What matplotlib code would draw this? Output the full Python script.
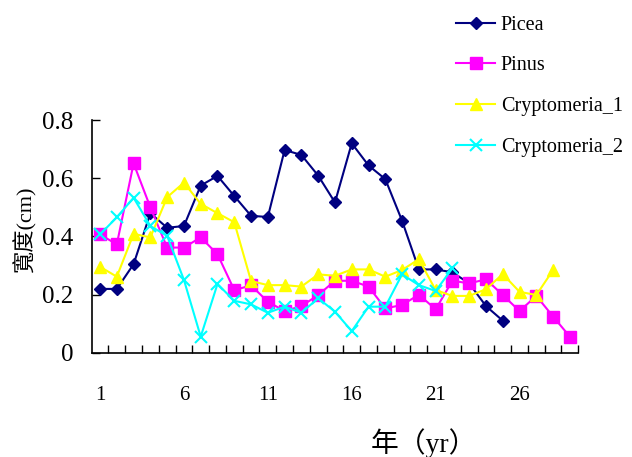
import numpy as np
import matplotlib
matplotlib.use("Agg")
import matplotlib.pyplot as plt

plt.rcParams['font.family'] = ['Liberation Serif', 'Noto Sans CJK TC', 'DejaVu Sans']

years = list(range(1, 30))
picea = [0.22, 0.22, 0.305, 0.48, 0.43, 0.436, 0.575, 0.608, 0.539, 0.471,
         0.467, 0.697, 0.68, 0.609, 0.517, 0.72, 0.644, 0.597, 0.454, 0.287,
         0.287, 0.277, 0.239, 0.161, 0.111, None, None, None, None]
pinus = [0.407, 0.373, 0.651, 0.50, 0.362, 0.362, 0.397, 0.339, 0.216, 0.232,
         0.176, 0.144, 0.161, 0.199, 0.248, 0.248, 0.228, 0.153, 0.165, 0.20,
         0.15, 0.248, 0.239, 0.253, 0.199, 0.144, 0.196, 0.125, 0.056]
crypt1 = [0.296, 0.262, 0.409, 0.397, 0.535, 0.585, 0.512, 0.48, 0.449, 0.247,
          0.233, 0.233, 0.228, 0.27, 0.265, 0.287, 0.287, 0.262, 0.285, 0.322,
          0.216, 0.196, 0.196, 0.219, 0.271, 0.21, 0.199, 0.285, None]
crypt2 = [0.407, 0.466, 0.533, 0.436, 0.402, 0.251, 0.056, 0.237, 0.179, 0.167,
          0.138, 0.159, 0.138, 0.188, 0.142, 0.075, 0.159, 0.159, 0.27, 0.233,
          0.213, 0.291, None, None, None, None, None, None, None]
series_names = ['Picea', 'Pinus', 'Cryptomeria_1', 'Cryptomeria_2']
xtick_labels = ['1', '6', '11', '16', '21', '26']
yticks = [0, 0.2, 0.4, 0.6, 0.8]
ytick_labels = ['0', '0.2', '0.4', '0.6', '0.8']

def arr(v):
    return np.array([np.nan if x is None else x for x in v], dtype=float)

fig = plt.figure(figsize=(6.32, 4.57), dpi=100)
ax = fig.add_axes([0.145, 0.2276, 0.77, 0.5098])

styles = [
    dict(color='#000080', marker='D', markersize=6.5),
    dict(color='#FF00FF', marker='s', markersize=8),
    dict(color='#FFFF00', marker='^', markersize=8.5),
    dict(color='#00FFFF', marker='x', markersize=8, markeredgewidth=1.5),
]
data = [picea, pinus, crypt1, crypt2]
for name, vals, st in zip(series_names, data, styles):
    ax.plot(years, arr(vals), label=name, linewidth=1.5, **st)

ax.set_xlim(0.5, 29.5)
ax.set_ylim(0, 0.8)
ax.spines['top'].set_visible(False)
ax.spines['right'].set_visible(False)
ax.spines['left'].set_linewidth(1.2)
ax.spines['bottom'].set_linewidth(1.2)

ax.set_xticks([int(s) for s in xtick_labels])
ax.set_xticklabels(xtick_labels, fontsize=15)
ax.set_xticks(np.arange(1.5, 30, 1.0), minor=True)
ax.tick_params(axis='x', which='major', length=0, pad=24)
ax.tick_params(axis='x', which='minor', direction='in', length=6, width=1)
ax.set_yticks(yticks)
ax.set_yticklabels(ytick_labels, fontsize=18)
ax.tick_params(axis='y', direction='in', length=6, width=1, pad=13)

fig.text(0.04, 0.497, '寬度(cm)', rotation=90, ha='center', va='center',
         fontsize=16, family=['Liberation Serif', 'Noto Sans CJK TC', 'DejaVu Sans'])
fig.text(0.671, 0.03, '年（yr）', ha='center', va='center', fontsize=20,
         family=['Liberation Serif', 'Noto Sans CJK TC', 'DejaVu Sans'])

fig.legend(loc='upper left', bbox_to_anchor=(0.70, 0.997), frameon=False,
           fontsize=14.5, labelspacing=1.08, handlelength=1.9, handletextpad=0.3,
           borderaxespad=0.3)

fig.savefig('out.png', dpi=100)
